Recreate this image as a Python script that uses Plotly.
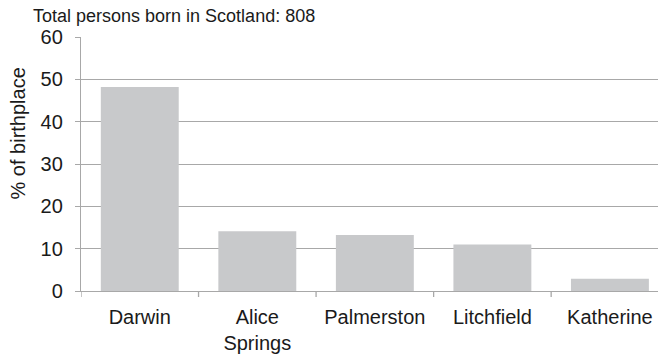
import plotly.graph_objects as go

# Birthplace share for persons born in Scotland
places = ["Darwin", "Alice<br>Springs", "Palmerston", "Litchfield", "Katherine"]
pct = [48.2, 14.1, 13.2, 11.0, 2.9]
y_ticks = [0, 10, 20, 30, 40, 50, 60]
total_born = 808

# page has an 8px body margin, so the figure is sized to fill the rest
W, H = 658, 346
L, T, B = 72.7, 28.9, 63.3
plot_w = W - L
plot_h = H - T - B

GRID = "#a8a8a8"
TXT = "#1a1a1a"
FONT = "Liberation Sans, Arial, sans-serif"

fig = go.Figure()
fig.add_trace(go.Bar(
    x=list(range(len(places))),
    y=pct,
    marker=dict(color="#c8c9cb", line=dict(width=0)),
    hoverinfo="skip",
))

# category slot ~117.6 px, last slot cut slightly by the page edge
slot = 117.6
x_max = -0.5 + plot_w / slot

fig.update_xaxes(
    range=[-0.5, x_max],
    tickmode="array",
    tickvals=list(range(len(places))),
    ticktext=places,
    showgrid=False,
    showline=True, linecolor=GRID, linewidth=1.3,
    ticks="",
    ticklabelstandoff=8,
    zeroline=False,
    tickfont=dict(size=20, color=TXT, family=FONT),
)
# boundary tick marks between categories
for i in range(len(places)):
    fig.add_shape(type="line", xref="x", yref="paper",
                  x0=i - 0.5, x1=i - 0.5, y0=0, y1=-6 / plot_h,
                  line=dict(color=GRID, width=1.3))

fig.update_yaxes(
    range=[0, 60],
    tickvals=y_ticks,
    showgrid=True, gridcolor=GRID, gridwidth=1.3,
    showline=True, linecolor=GRID, linewidth=1.3,
    ticks="outside", ticklen=5, tickcolor=GRID, tickwidth=1.3,
    ticklabelstandoff=8,
    zeroline=False,
    tickfont=dict(size=20, color=TXT, family=FONT),
)

fig.add_annotation(
    text=f"Total persons born in Scotland: {total_born}",
    xref="paper", yref="paper",
    x=(23 - L) / plot_w, y=(H - B - 7.5) / plot_h,
    xanchor="left", yanchor="middle",
    showarrow=False,
    font=dict(size=18, color=TXT, family=FONT),
)
fig.add_annotation(
    text="% of birthplace",
    xref="paper", yref="paper",
    x=(10 - L) / plot_w, y=(H - B - 125) / plot_h,
    xanchor="center", yanchor="middle",
    textangle=-90,
    showarrow=False,
    font=dict(size=20, color=TXT, family=FONT),
)

fig.update_layout(
    width=W, height=H,
    margin=dict(l=L, r=0, t=T, b=B, autoexpand=False),
    plot_bgcolor="white", paper_bgcolor="white",
    bargap=0.337,
    showlegend=False,
)

fig.write_html("out.html")
